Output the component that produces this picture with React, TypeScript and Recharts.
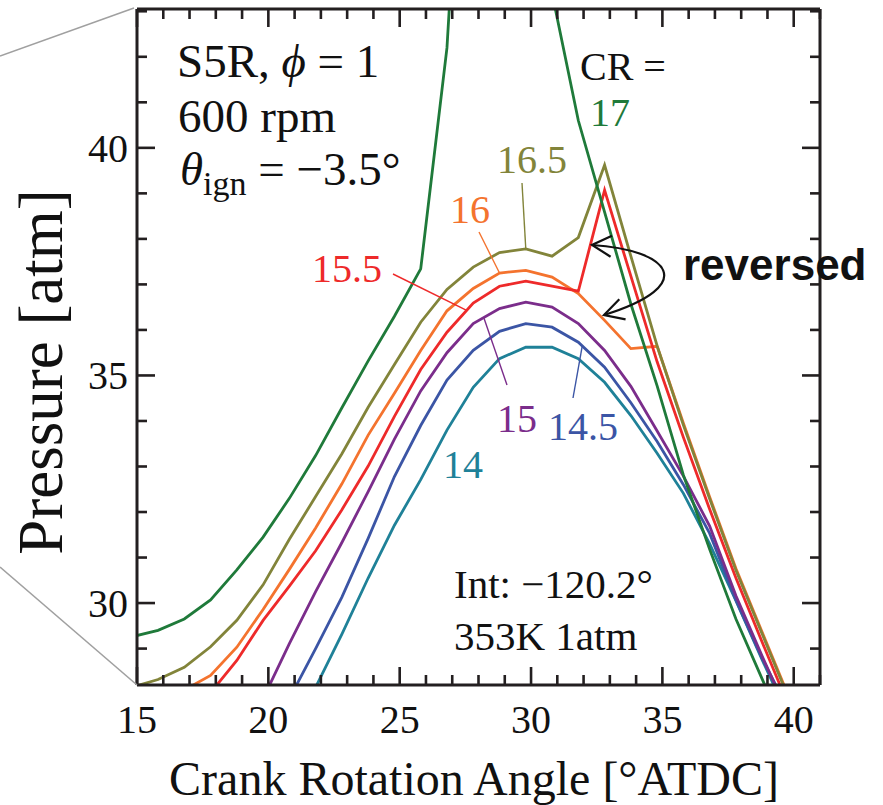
import React from 'react';
import { LineChart, Line, XAxis, YAxis } from 'recharts';

// Crank angle samples (deg ATDC), one per degree from intake timing -120.2°
const angles = [14.8, 15.8, 16.8, 17.8, 18.8, 19.8, 20.8, 21.8, 22.8, 23.8, 24.8, 25.8, 26.8, 27.8, 28.8, 29.8, 30.8, 31.8, 32.8, 33.8, 34.8, 35.8, 36.8, 37.8, 38.8, 39.8];

// In-cylinder pressure [atm] for each compression ratio
const cr17 = [29.26, 29.4, 29.65, 30.07, 30.73, 31.45, 32.3, 33.24, 34.29, 35.32, 36.3, 37.34, 42.2, 52, 57, 54, 43.4, 40.6, 38.59, 36.57, 34.77, 32.81, 31.18, 29.65, 28.33, 27.0];
const cr16_5 = [28.15, 28.32, 28.59, 29.04, 29.62, 30.4, 31.4, 32.34, 33.28, 34.3, 35.24, 36.17, 36.89, 37.38, 37.7, 37.78, 37.62, 38.03, 39.62, 37.62, 35.65, 33.91, 32.29, 30.72, 29.32, 27.92];
const cr16 = [null, 27.85, 28.09, 28.41, 29.03, 29.86, 30.74, 31.65, 32.62, 33.69, 34.61, 35.55, 36.42, 36.91, 37.25, 37.31, 37.16, 36.8, 36.21, 35.59, 35.64, 33.95, 32.33, 30.76, 29.36, 27.96];
const cr15_5 = [null, null, 27.8, 28.03, 28.74, 29.62, 30.37, 31.15, 32.05, 33.01, 34.1, 35.13, 35.95, 36.59, 36.96, 37.07, 36.96, 36.85, 39.07, 37.18, 35.3, 33.64, 32.06, 30.55, 29.14, 27.75];
const cr15 = [null, null, null, null, null, 27.9, 29.11, 30.25, 31.33, 32.45, 33.6, 34.66, 35.5, 36.14, 36.47, 36.61, 36.5, 36.14, 35.55, 34.76, 33.78, 32.79, 31.69, 30.16, 28.83, 27.55];
const cr14_5 = [null, null, null, null, null, null, 27.9, 29.0, 30.13, 31.42, 32.78, 33.9, 34.9, 35.55, 35.97, 36.14, 36.06, 35.73, 35.18, 34.4, 33.55, 32.6, 31.53, 30.06, 28.78, 27.65];
const cr14 = [null, null, null, null, null, null, 27.1, 28.15, 29.32, 30.55, 31.71, 32.71, 33.8, 34.74, 35.37, 35.62, 35.62, 35.37, 34.85, 34.12, 33.29, 32.41, 31.3, 30.05, 28.75, 27.5];

// Axis ticks (every degree / every atm; labels on multiples of 5)
const xTicks = [15, 16, 17, 18, 19, 20, 21, 22, 23, 24, 25, 26, 27, 28, 29, 30, 31, 32, 33, 34, 35, 36, 37, 38, 39, 40, 41];
const yTicks = [29, 30, 31, 32, 33, 34, 35, 36, 37, 38, 39, 40, 41, 42, 43];

const SERIES = [
  { key: 'cr14', label: '14', values: cr14, color: '#1f8198' },
  { key: 'cr14_5', label: '14.5', values: cr14_5, color: '#3b55a5' },
  { key: 'cr15', label: '15', values: cr15, color: '#7b2d8b' },
  { key: 'cr16', label: '16', values: cr16, color: '#f4732e' },
  { key: 'cr15_5', label: '15.5', values: cr15_5, color: '#ee2a2a' },
  { key: 'cr16_5', label: '16.5', values: cr16_5, color: '#82843a' },
  { key: 'cr17', label: '17', values: cr17, color: '#1f7a3a' },
];

const rows = angles.map((angle, i) => {
  const row: Record<string, number | null> = { angle };
  SERIES.forEach((s) => {
    row[s.key] = s.values[i];
  });
  return row;
});

const SERIF = '"Liberation Serif", "Times New Roman", serif';
const SANS = '"Liberation Sans", Arial, sans-serif';
const FRAME = '#231f20';
const TEXT = '#111111';

const W = 883;
const H = 805;
const X_DOMAIN: [number, number] = [15, 41];
const Y_DOMAIN: [number, number] = [28.2, 43.05];
const PLOT = { left: 137, top: 9, width: 683, height: 676 };

// data -> pixel helpers for the annotation layer (same box as the chart's plot area)
const px = (a: number) => PLOT.left + ((a - X_DOMAIN[0]) / (X_DOMAIN[1] - X_DOMAIN[0])) * PLOT.width;
const py = (v: number) => PLOT.top + ((Y_DOMAIN[1] - v) / (Y_DOMAIN[1] - Y_DOMAIN[0])) * PLOT.height;
const valueAt = (values: (number | null)[], a: number) => {
  for (let i = 0; i < angles.length - 1; i++) {
    if (a >= angles[i] && a <= angles[i + 1]) {
      const v0 = values[i] as number;
      const v1 = values[i + 1] as number;
      return v0 + ((a - angles[i]) / (angles[i + 1] - angles[i])) * (v1 - v0);
    }
  }
  return values[values.length - 1] as number;
};

const MAJOR = 18;
const MINOR = 10;
const TICK_W = 2.6;

const BottomTick = (props: any) => {
  const { x, y, payload } = props;
  const v = payload.value;
  const major = v % 5 === 0;
  return (
    <g>
      <line x1={x} x2={x} y1={y} y2={y - (major ? MAJOR : MINOR)} stroke={FRAME} strokeWidth={TICK_W} />
      {major && (
        <text x={x} y={y + 48} textAnchor="middle" fontSize={40} fontFamily={SERIF} fill={TEXT}>
          {v}
        </text>
      )}
    </g>
  );
};

const TopTick = (props: any) => {
  const { x, y, payload } = props;
  const major = payload.value % 5 === 0;
  return <line x1={x} x2={x} y1={y} y2={y + (major ? MAJOR : MINOR)} stroke={FRAME} strokeWidth={TICK_W} />;
};

const LeftTick = (props: any) => {
  const { x, y, payload } = props;
  const v = payload.value;
  const major = v % 5 === 0;
  return (
    <g>
      <line x1={x} x2={x + (major ? MAJOR : MINOR)} y1={y} y2={y} stroke={FRAME} strokeWidth={TICK_W} />
      {major && (
        <text x={x - 9} y={y + 14} textAnchor="end" fontSize={40} fontFamily={SERIF} fill={TEXT}>
          {v}
        </text>
      )}
    </g>
  );
};

const RightTick = (props: any) => {
  const { x, y, payload } = props;
  const major = payload.value % 5 === 0;
  return <line x1={x} x2={x - (major ? MAJOR : MINOR)} y1={y} y2={y} stroke={FRAME} strokeWidth={TICK_W} />;
};

// open arrow head at (tx, ty), pointing along direction (dx, dy)
const arrowHead = (tx: number, ty: number, dx: number, dy: number, len = 22, spread = 0.5) => {
  const ang = Math.atan2(dy, dx);
  const a1 = ang + Math.PI - spread;
  const a2 = ang + Math.PI + spread;
  return `M ${tx + len * Math.cos(a1)} ${ty + len * Math.sin(a1)} L ${tx} ${ty} L ${tx + len * Math.cos(a2)} ${ty + len * Math.sin(a2)}`;
};

const colorOf = (key: string) => SERIES.find((s) => s.key === key)!.color;

const Annotations = () => {
  const olivePt = { x: px(29.8), y: py(valueAt(cr16_5, 29.8)) };
  const orangePt = { x: px(28.8), y: py(valueAt(cr16, 28.8)) };
  const redPt = { x: px(27.55), y: py(valueAt(cr15_5, 27.55)) };
  const purplePt = { x: px(28.2), y: py(valueAt(cr15, 28.2)) };
  const bluePt = { x: px(31.95), y: py(valueAt(cr14_5, 31.95)) };

  const arrowStart = { x: 592, y: 245 };
  const arrowEnd = { x: 604, y: 315 };
  const c1 = { x: 670, y: 250 };
  const c2 = { x: 700, y: 285 };

  const labelStyle = { fontFamily: SERIF, fontSize: 40 };

  return (
    <svg width={W} height={H} style={{ position: 'absolute', left: 0, top: 0, pointerEvents: 'none' }}>
      {/* zoom-in guide lines */}
      <line x1={0} y1={56} x2={134} y2={8} stroke="#a0a0a0" strokeWidth={1.6} />
      <line x1={0} y1={567} x2={137} y2={685} stroke="#a0a0a0" strokeWidth={1.6} />

      {/* operating conditions */}
      <text x={177} y={77} fontFamily={SERIF} fontSize={47} fill={TEXT}>
        S5R, <tspan fontStyle="italic">ϕ</tspan>{' = 1'}
      </text>
      <text x={178} y={132} fontFamily={SERIF} fontSize={47} fill={TEXT}>
        600 rpm
      </text>
      <text x={180} y={185} fontFamily={SERIF} fontSize={47} fill={TEXT}>
        <tspan fontStyle="italic">θ</tspan>
        <tspan dy={10} fontSize={34}>ign</tspan>
        <tspan dy={-10}>{' = −3.5°'}</tspan>
      </text>
      <text x={454} y={598} fontFamily={SERIF} fontSize={41} fill={TEXT}>
        Int: −120.2°
      </text>
      <text x={454} y={650} fontFamily={SERIF} fontSize={41} fill={TEXT}>
        353K 1atm
      </text>

      {/* compression ratio labels */}
      <text x={580} y={80} {...labelStyle} fill={TEXT}>CR =</text>
      <text x={590} y={126} {...labelStyle} fill={colorOf('cr17')}>17</text>
      <text x={497} y={173} {...labelStyle} fill={colorOf('cr16_5')}>16.5</text>
      <text x={450} y={223} {...labelStyle} fill={colorOf('cr16')}>16</text>
      <text x={312} y={282} {...labelStyle} fill={colorOf('cr15_5')}>15.5</text>
      <text x={497} y={432} {...labelStyle} fill={colorOf('cr15')}>15</text>
      <text x={548} y={440} {...labelStyle} fill={colorOf('cr14_5')}>14.5</text>
      <text x={443} y={478} {...labelStyle} fill={colorOf('cr14')}>14</text>

      {/* leader lines */}
      <line x1={522} y1={183} x2={olivePt.x} y2={olivePt.y} stroke={colorOf('cr16_5')} strokeWidth={1.4} />
      <line x1={479} y1={232} x2={orangePt.x} y2={orangePt.y} stroke={colorOf('cr16')} strokeWidth={1.4} />
      <line x1={393} y1={274} x2={redPt.x} y2={redPt.y} stroke={colorOf('cr15_5')} strokeWidth={1.4} />
      <line x1={purplePt.x} y1={purplePt.y} x2={507} y2={385} stroke={colorOf('cr15')} strokeWidth={1.4} />
      <line x1={bluePt.x} y1={bluePt.y} x2={573} y2={398} stroke={colorOf('cr14_5')} strokeWidth={1.4} />

      {/* reversed-order callout */}
      <path
        d={`M ${arrowStart.x} ${arrowStart.y} C ${c1.x} ${c1.y}, ${c2.x} ${c2.y}, ${arrowEnd.x} ${arrowEnd.y}`}
        fill="none"
        stroke={TEXT}
        strokeWidth={2.2}
      />
      <path d={arrowHead(arrowStart.x, arrowStart.y, arrowStart.x - c1.x, arrowStart.y - c1.y)} fill="none" stroke={TEXT} strokeWidth={2.2} />
      <path d={arrowHead(arrowEnd.x, arrowEnd.y, arrowEnd.x - c2.x, arrowEnd.y - c2.y)} fill="none" stroke={TEXT} strokeWidth={2.2} />
      <text x={683} y={280} fontFamily={SANS} fontWeight="bold" fontSize={44} fill={TEXT}>
        reversed
      </text>

      {/* axis titles */}
      <text x={474} y={795} textAnchor="middle" fontFamily={SERIF} fontSize={48} fill={TEXT}>
        Crank Rotation Angle [°ATDC]
      </text>
      <text
        x={0}
        y={0}
        transform="translate(62 372) rotate(-90)"
        textAnchor="middle"
        fontFamily={SERIF}
        fontSize={63}
        fill={TEXT}
      >
        Pressure [atm]
      </text>
    </svg>
  );
};

export default function App() {
  return (
    <div style={{ position: 'absolute', left: 0, top: 0, width: W, height: H, background: '#ffffff' }}>
      <LineChart width={W} height={H} data={rows} margin={{ top: 8, right: 53, bottom: 80, left: 77 }}>
        <XAxis
          dataKey="angle"
          type="number"
          domain={X_DOMAIN}
          allowDataOverflow
          ticks={xTicks}
          interval={0}
          height={40}
          tickSize={0}
          tickMargin={0}
          tickLine={false}
          axisLine={{ stroke: FRAME, strokeWidth: 3 }}
          tick={<BottomTick />}
        />
        <XAxis
          xAxisId="top"
          orientation="top"
          dataKey="angle"
          type="number"
          domain={X_DOMAIN}
          allowDataOverflow
          ticks={xTicks}
          interval={0}
          height={1}
          tickSize={0}
          tickMargin={0}
          tickLine={false}
          axisLine={{ stroke: FRAME, strokeWidth: 3 }}
          tick={<TopTick />}
        />
        <YAxis
          type="number"
          domain={Y_DOMAIN}
          allowDataOverflow
          ticks={yTicks}
          interval={0}
          width={60}
          tickSize={0}
          tickMargin={0}
          tickLine={false}
          axisLine={{ stroke: FRAME, strokeWidth: 3 }}
          tick={<LeftTick />}
        />
        <YAxis
          yAxisId="right"
          orientation="right"
          type="number"
          domain={Y_DOMAIN}
          allowDataOverflow
          ticks={yTicks}
          interval={0}
          width={10}
          tickSize={0}
          tickMargin={0}
          tickLine={false}
          axisLine={{ stroke: FRAME, strokeWidth: 3 }}
          tick={<RightTick />}
        />
        {SERIES.map((s) => (
          <Line
            key={s.key}
            type="linear"
            dataKey={s.key}
            stroke={s.color}
            strokeWidth={2.8}
            dot={false}
            activeDot={false}
            isAnimationActive={false}
          />
        ))}
      </LineChart>
      <Annotations />
    </div>
  );
}
